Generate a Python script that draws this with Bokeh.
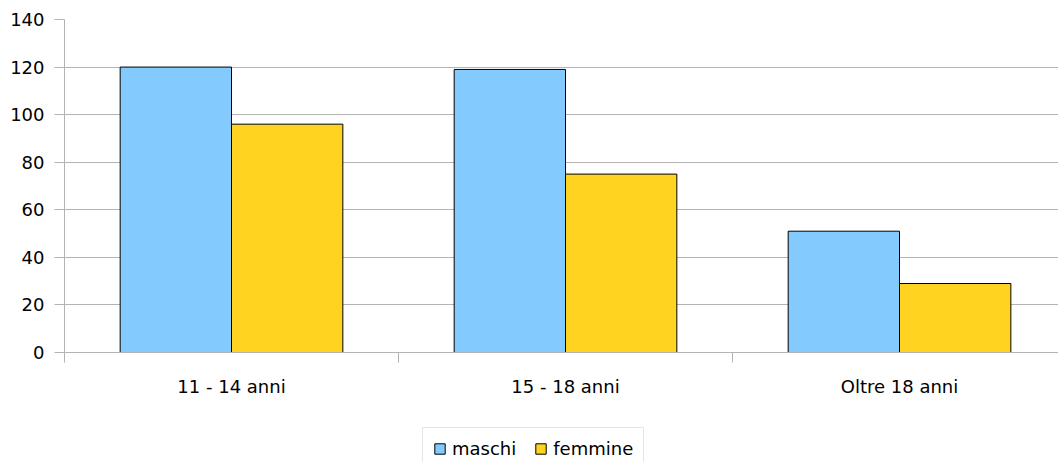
from bokeh.plotting import figure
from bokeh.models import Range1d, FixedTicker, Legend, LegendItem, ColumnDataSource
from bokeh.layouts import column
from bokeh.transform import dodge
from bokeh.embed import file_html
from bokeh.resources import INLINE

categories = ["11 - 14 anni", "15 - 18 anni", "Oltre 18 anni"]
series_names = ["maschi", "femmine"]
maschi = [120, 119, 51]
femmine = [96, 75, 29]
y_ticks = [0, 20, 40, 60, 80, 100, 120, 140]
colors = ["#83caff", "#ffd320"]

pos = [i + 0.5 for i in range(len(categories))]
src = ColumnDataSource(dict(x=pos, maschi=maschi, femmine=femmine))

FONT = "DejaVu Sans"
FS = "18px"
GRID = "#b3b3b3"

p = figure(width=1058, height=410, output_backend="svg", toolbar_location=None,
           x_range=Range1d(0, 2.976), y_range=Range1d(0, 140),
           min_border_left=64, min_border_right=0, min_border_top=19,
           min_border_bottom=58)
p.outline_line_color = None
p.background_fill_color = "white"
p.border_fill_color = "white"

r1 = p.vbar(x=dodge("x", -1/6, range=p.x_range), top="maschi", width=1/3, source=src,
            fill_color=colors[0], line_color="#000000", line_width=1)
r2 = p.vbar(x=dodge("x", 1/6, range=p.x_range), top="femmine", width=1/3, source=src,
            fill_color=colors[1], line_color="#000000", line_width=1)

# grid
p.xgrid.visible = False
p.ygrid.grid_line_color = GRID
p.ygrid.grid_line_width = 1
p.ygrid.ticker = FixedTicker(ticks=y_ticks)

# y axis
ya = p.yaxis[0]
ya.ticker = FixedTicker(ticks=y_ticks)
ya.axis_line_color = GRID
ya.major_tick_line_color = GRID
ya.major_tick_out = 10
ya.major_tick_in = 0
ya.minor_tick_line_color = None
ya.major_label_text_font = FONT
ya.major_label_text_font_size = FS
ya.major_label_text_color = "#000000"
ya.major_label_standoff = 10

# x axis
xa = p.xaxis[0]
xa.ticker = FixedTicker(ticks=pos, minor_ticks=list(range(len(categories) + 1)))
xa.major_label_overrides = {pp: c for pp, c in zip(pos, categories)}
xa.axis_line_color = GRID
xa.major_tick_line_color = None
xa.major_tick_out = 0
xa.major_tick_in = 0
xa.minor_tick_line_color = GRID
xa.minor_tick_out = 10
xa.minor_tick_in = 0
xa.major_label_text_font = FONT
xa.major_label_text_font_size = FS
xa.major_label_text_color = "#000000"
xa.major_label_standoff = 13

# legend strip below the chart (its bars lie far outside its visible ranges)
p2 = figure(width=1058, height=52, output_backend="svg", toolbar_location=None,
            x_range=Range1d(-50, -49), y_range=Range1d(-50, -49),
            x_axis_type=None, y_axis_type=None, min_border=0)
p2.outline_line_color = None
p2.grid.visible = False
p2.background_fill_color = "white"
p2.border_fill_color = "white"

lr = [p2.vbar(x="x", top=name, width=0.1, source=src,
              fill_color=c, line_color="#000000", line_width=1)
      for name, c in zip(series_names, colors)]

legend = Legend(items=[LegendItem(label=n, renderers=[r]) for n, r in zip(series_names, lr)],
                orientation="horizontal", location=(358, -8))
legend.label_text_font = FONT
legend.label_text_font_size = FS
legend.label_text_color = "#000000"
legend.glyph_width = 13
legend.glyph_height = 13
legend.label_standoff = 6
legend.spacing = 18
legend.padding = 10
legend.margin = 0
legend.border_line_color = "#cccccc"
legend.border_line_width = 1
legend.background_fill_color = "white"
legend.background_fill_alpha = 1
p2.add_layout(legend, "center")

layout = column(p, p2, spacing=0)
open("out.html", "w").write(file_html(layout, INLINE))
